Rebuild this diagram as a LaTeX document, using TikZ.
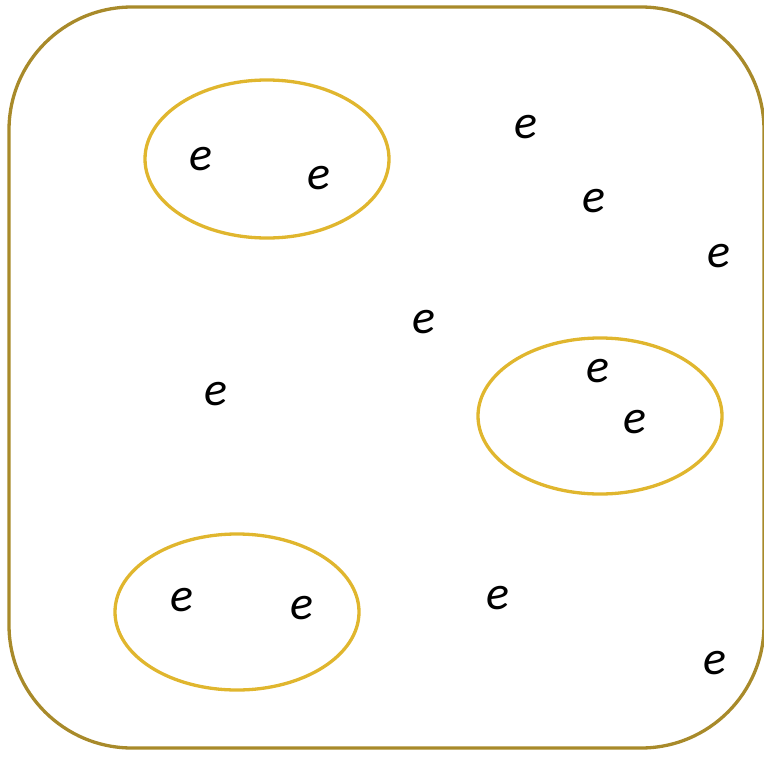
\documentclass[tikz,border=0pt]{standalone}
\usepackage{fontspec}
\setmainfont{Carlito}
\usepackage{xcolor}
\definecolor{setgold}{RGB}{168,138,42}
\definecolor{clustgold}{RGB}{224,182,46}
\usetikzlibrary{shapes.geometric}

\begin{document}
\begin{tikzpicture}[x=1pt,y=-1pt,
  elem/.style={font=\fontsize{48}{48}\selectfont\itshape,inner sep=0pt},
  clust/.style={draw=clustgold,line width=3.3pt}]
  \useasboundingbox (0,0) rectangle (763,779);
  % outer set
  \draw[setgold,line width=3.3pt,rounded corners=123pt] (9,7) rectangle (764,748);
  % clusters
  \node[clust,ellipse,minimum width=244pt,minimum height=158pt] (ca) at (267,159) {};
  \node[clust,ellipse,minimum width=244pt,minimum height=156pt] (cb) at (600,416) {};
  \node[clust,ellipse,minimum width=244pt,minimum height=156pt] (cc) at (237,612) {};
  % elements
  \foreach \n/\x/\y in {
    e1/201/159, e2/319/178, e3/526/127, e4/594/201, e5/719/256,
    e6/424/322, e7/598/371, e8/635/422, e9/216/394, e10/182/600,
    e11/302/608, e12/498/598, e13/715/663}{
    \node[elem] (\n) at (\x,\y) {e};
  }
\end{tikzpicture}
\end{document}
